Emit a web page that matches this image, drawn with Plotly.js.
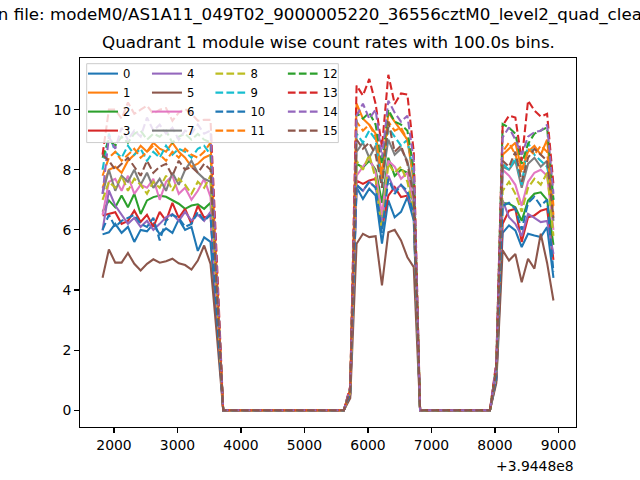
<!DOCTYPE html>
<html>
<head>
<meta charset="utf-8">
<script src="https://cdn.plot.ly/plotly-3.0.1.min.js"></script>
<style>html,body{margin:0;padding:0;background:#fff;}#chart{width:640px;height:480px;}</style>
</head>
<body>
<div id="chart"></div>
<script>
// Time (s) relative to offset 3.9448e8, 100 s bins
const timeOffsetLabel = "+3.9448e8";
const times = [1820,1920,2020,2120,2220,2320,2420,2520,2620,2720,2820,2920,3020,3120,3220,3320,3420,3520,3620,
3720,3820,3920,4020,4120,4220,4320,4420,4520,4620,4720,4820,4920,5020,5120,5220,5320,5420,5520,5620,
5720,5820,5920,6020,6120,6220,6320,6420,6520,6620,6720,
6820,6920,7020,7120,7220,7320,7420,7520,7620,7720,7820,7920,
8020,8120,8220,8320,8420,8520,8620,8720,8820,8920];

const moduleNames = ["0","1","2","3","4","5","6","7","8","9","10","11","12","13","14","15"];

const rate0 = [5.85,5.92,6.2,5.9,6.1,5.6,6.0,5.95,6.2,5.85,6.05,5.9,6.35,6.0,6.1,5.3,5.75,5.6,3.0,
0,0,0,0,0,0,0,0,0,0,0,0,0,0,0,0,0,0,0,0,
0.55,7.42,7.03,7.37,7.14,5.54,6.98,6.42,6.6,7.09,6.31,
0,0,0,0,0,0,0,0,0,0,0,0,
1.0,5.9,6.15,5.98,5.43,5.87,5.81,5.76,6.09,4.4];
const rate1 = [7.4,8.0,8.1,7.9,8.3,8.5,8.8,8.6,8.9,8.7,8.6,8.9,8.6,8.4,8.1,8.2,8.4,8.5,4.3,
0,0,0,0,0,0,0,0,0,0,0,0,0,0,0,0,0,0,0,0,
0.7,10.2,9.7,9.5,9.2,7.8,9.9,9.6,9.3,9.0,7.6,
0,0,0,0,0,0,0,0,0,0,0,0,
1.4,8.5,8.7,8.9,8.0,8.6,8.8,8.5,9.0,6.8];
const rate2 = [6.6,6.98,6.75,7.14,6.75,7.2,6.53,6.98,7.09,7.14,7.1,6.98,6.87,6.7,6.81,6.85,6.7,6.9,3.5,
0,0,0,0,0,0,0,0,0,0,0,0,0,0,0,0,0,0,0,0,
0.6,8.2,8.08,8.3,8.0,6.9,8.4,7.8,8.0,7.9,6.8,
0,0,0,0,0,0,0,0,0,0,0,0,
1.2,6.9,6.87,6.75,6.3,6.98,7.2,7.25,7.0,5.5];
const rate3 = [6.48,6.53,6.59,6.2,6.3,6.64,6.26,6.5,6.1,6.6,6.3,6.9,6.4,6.7,6.2,6.8,6.4,6.5,3.3,
0,0,0,0,0,0,0,0,0,0,0,0,0,0,0,0,0,0,0,0,
0.55,7.64,7.53,7.64,7.7,6.09,7.14,7.42,7.09,7.14,6.64,
0,0,0,0,0,0,0,0,0,0,0,0,
1.1,6.2,6.64,6.7,5.6,6.42,6.48,6.64,6.7,5.0];
const rate4 = [5.98,7.31,6.81,6.5,6.2,6.4,6.1,6.3,6.0,6.2,6.42,6.53,6.3,6.6,6.31,6.5,6.3,6.6,3.2,
0,0,0,0,0,0,0,0,0,0,0,0,0,0,0,0,0,0,0,0,
0.5,7.5,7.3,7.6,7.4,6.3,7.8,7.3,7.5,7.2,6.6,
0,0,0,0,0,0,0,0,0,0,0,0,
1.0,6.98,6.42,6.2,5.8,6.53,6.4,6.26,6.3,5.2];
const rate5 = [4.41,5.35,4.91,4.91,5.23,4.87,4.65,4.87,5.02,4.91,4.96,5.04,4.89,4.83,4.68,4.98,5.48,4.87,2.5,
0,0,0,0,0,0,0,0,0,0,0,0,0,0,0,0,0,0,0,0,
0.4,5.54,5.87,5.76,5.79,4.15,5.92,6.0,5.65,5.09,4.76,
0,0,0,0,0,0,0,0,0,0,0,0,
0.9,5.32,4.98,5.2,4.26,5.04,4.71,5.87,4.9,3.65];
const rate6 = [6.5,7.6,7.7,7.3,7.8,7.2,7.5,7.4,7.7,7.0,7.6,7.8,7.2,7.4,7.0,7.3,7.7,7.1,3.7,
0,0,0,0,0,0,0,0,0,0,0,0,0,0,0,0,0,0,0,0,
0.6,7.8,8.1,8.4,7.9,6.5,8.3,8.1,7.7,7.9,6.9,
0,0,0,0,0,0,0,0,0,0,0,0,
1.2,8.0,7.8,7.5,6.8,7.6,7.9,8.0,7.8,6.0];
const rate7 = [7.2,8.0,7.3,7.8,7.6,8.0,7.5,7.9,7.4,7.7,7.3,7.9,7.5,8.0,8.3,7.9,7.7,7.6,4.0,
0,0,0,0,0,0,0,0,0,0,0,0,0,0,0,0,0,0,0,0,
0.65,8.6,8.9,8.4,8.8,7.6,9.0,8.5,8.7,8.3,7.3,
0,0,0,0,0,0,0,0,0,0,0,0,
1.3,8.1,8.0,8.3,7.4,8.2,8.4,8.1,8.3,6.3];
const rate8 = [7.0,7.6,7.4,7.8,7.3,7.7,7.5,7.2,7.6,7.4,7.8,7.3,7.7,7.5,7.2,7.6,7.4,7.8,3.9,
0,0,0,0,0,0,0,0,0,0,0,0,0,0,0,0,0,0,0,0,
0.6,8.3,8.0,8.5,7.7,6.0,8.2,7.9,8.1,7.6,6.6,
0,0,0,0,0,0,0,0,0,0,0,0,
1.2,7.3,7.6,7.2,6.6,7.4,7.7,7.5,7.9,5.8];
const rate9 = [8.0,9.2,8.6,8.4,8.8,8.5,8.7,8.3,8.6,8.4,8.8,8.5,8.7,8.6,8.4,8.7,8.8,8.5,4.3,
0,0,0,0,0,0,0,0,0,0,0,0,0,0,0,0,0,0,0,0,
0.7,9.2,8.9,9.3,9.0,7.4,9.4,9.1,8.8,9.0,7.8,
0,0,0,0,0,0,0,0,0,0,0,0,
1.3,8.2,8.0,8.4,7.5,8.9,8.5,8.3,8.1,7.0];
const rate10 = [6.0,6.5,6.1,6.3,6.4,6.5,6.2,6.1,6.4,5.65,6.3,6.5,6.4,6.1,6.2,6.6,6.3,6.5,3.2,
0,0,0,0,0,0,0,0,0,0,0,0,0,0,0,0,0,0,0,0,
0.55,7.5,7.3,7.6,7.4,5.9,7.7,7.2,7.5,7.3,6.5,
0,0,0,0,0,0,0,0,0,0,0,0,
1.1,6.8,6.9,6.7,6.0,6.9,7.1,6.8,7.0,4.6];
const rate11 = [7.8,8.4,8.6,8.3,8.5,8.7,8.4,8.6,8.8,8.5,8.3,8.6,8.4,8.7,8.5,8.4,8.6,8.9,4.4,
0,0,0,0,0,0,0,0,0,0,0,0,0,0,0,0,0,0,0,0,
0.7,9.6,9.3,9.5,9.1,7.7,9.6,9.3,9.4,9.0,7.9,
0,0,0,0,0,0,0,0,0,0,0,0,
1.4,8.6,8.9,8.5,7.9,8.7,8.5,8.8,8.6,6.5];
const rate12 = [8.4,9.0,8.8,9.1,8.9,9.2,9.3,9.0,9.2,9.1,9.3,8.9,9.1,9.2,9.0,9.19,9.0,8.91,4.6,
0,0,0,0,0,0,0,0,0,0,0,0,0,0,0,0,0,0,0,0,
0.75,9.9,9.7,9.9,9.5,8.2,10.0,9.6,9.5,9.3,8.0,
0,0,0,0,0,0,0,0,0,0,0,0,
1.5,9.52,9.4,9.2,8.2,8.86,9.2,9.3,9.41,7.0];
const rate13 = [8.5,10.0,10.0,9.7,10.24,9.86,10.0,10.13,9.86,10.0,10.05,9.63,9.9,10.02,9.86,9.63,9.66,9.66,5.0,
0,0,0,0,0,0,0,0,0,0,0,0,0,0,0,0,0,0,0,0,
0.8,10.8,10.47,11.02,10.19,8.75,11.16,10.19,10.54,10.5,8.6,
0,0,0,0,0,0,0,0,0,0,0,0,
1.6,9.47,9.8,9.74,8.3,10.3,9.97,9.77,9.86,7.5];
const rate14 = [7.2,9.1,8.7,9.4,9.0,9.3,9.1,9.74,9.3,9.5,9.2,9.4,9.0,9.3,9.2,9.5,9.2,9.3,4.7,
0,0,0,0,0,0,0,0,0,0,0,0,0,0,0,0,0,0,0,0,
0.75,9.8,10.2,9.7,10.0,8.4,10.3,9.9,9.6,9.8,8.3,
0,0,0,0,0,0,0,0,0,0,0,0,
1.5,9.08,9.41,9.0,8.5,9.1,9.25,9.3,9.5,7.2];
const rate15 = [8.5,8.3,8.0,8.2,8.4,8.1,7.8,8.3,7.9,8.1,8.2,7.8,8.3,8.0,8.1,7.9,8.2,8.0,4.1,
0,0,0,0,0,0,0,0,0,0,0,0,0,0,0,0,0,0,0,0,
0.65,9.0,8.7,8.9,8.5,7.4,9.6,8.6,8.8,8.2,7.1,
0,0,0,0,0,0,0,0,0,0,0,0,
1.3,8.3,8.1,8.6,7.6,8.4,8.7,8.5,8.3,6.4];

const rates = [rate0,rate1,rate2,rate3,rate4,rate5,rate6,rate7,rate8,rate9,rate10,rate11,rate12,rate13,rate14,rate15];
const xTicks = [2000,3000,4000,5000,6000,7000,8000,9000];
const yTicks = [0,2,4,6,8,10];
const suptitleText = "Data in file: modeM0/AS1A11_049T02_9000005220_36556cztM0_level2_quad_clean.evt";
const titleText = "Quadrant 1 module wise count rates with 100.0s bins.";

const palette = ["#1f77b4","#ff7f0e","#2ca02c","#d62728","#9467bd","#8c564b","#e377c2","#7f7f7f","#bcbd22","#17becf"];
const FONT = "DejaVu Sans";

const legendIds = ["legend","legend2","legend3","legend4"];
const traces = rates.map((r, i) => ({
  type: "scatter", mode: "lines",
  x: times, y: r, name: moduleNames[i],
  legend: legendIds[Math.floor(i / 4)],
  line: {color: palette[i % 10], width: 2.08, dash: i >= 8 ? "7.7px,3.3px" : "solid"}
}));

const legendCols = [0.006, 0.135, 0.263, 0.409];
const legendBase = {
  y: 0.997, yanchor: "top", xanchor: "left",
  bgcolor: "rgba(0,0,0,0)", borderwidth: 0,
  font: {family: FONT, size: 11.6, color: "#000"},
  tracegroupgap: 0, itemwidth: 30
};
const layout = {
  width: 640, height: 480,
  margin: {l: 80, r: 64, t: 57.6, b: 52.8, pad: 0},
  paper_bgcolor: "#fff", plot_bgcolor: "#fff",
  showlegend: true,
  font: {family: FONT, color: "#000"},
  xaxis: {
    range: [1465, 9275], tickvals: xTicks, ticks: "outside", ticklen: 4.9, tickwidth: 1.1, tickcolor: "#000",
    showline: true, linecolor: "#000", linewidth: 1.1, mirror: true, showgrid: false, zeroline: false,
    tickfont: {family: FONT, size: 13.9, color: "#000"}, automargin: false
  },
  yaxis: {
    range: [-0.558, 11.718], tickvals: yTicks, ticks: "outside", ticklen: 4.9, tickwidth: 1.1, tickcolor: "#000",
    showline: true, linecolor: "#000", linewidth: 1.1, mirror: true, showgrid: false, zeroline: false,
    tickfont: {family: FONT, size: 13.9, color: "#000"}, automargin: false
  },
  shapes: [{
    type: "rect", xref: "paper", yref: "paper", layer: "above",
    x0: 0.0135, x1: 0.5208, y0: 0.7708, y1: 0.9846,
    fillcolor: "rgba(255,255,255,0.8)", line: {color: "#cccccc", width: 1}
  }],
  annotations: [
    {text: suptitleText, xref: "paper", yref: "paper", x: -0.270, y: 1.1166, xanchor: "left", yanchor: "middle",
     showarrow: false, font: {family: FONT, size: 16.7, color: "#000"}},
    {text: titleText, xref: "paper", yref: "paper", x: 0.5, y: 1.0, xanchor: "center", yanchor: "bottom", yshift: 4,
     showarrow: false, font: {family: FONT, size: 16.7, color: "#000"}},
    {text: timeOffsetLabel, xref: "paper", yref: "paper", x: 1.0, y: -0.107, xanchor: "right", yanchor: "middle",
     showarrow: false, font: {family: FONT, size: 13.9, color: "#000"}}
  ]
};
legendIds.forEach((id, k) => { layout[id] = Object.assign({}, legendBase, {x: legendCols[k]}); });

Plotly.newPlot("chart", traces, layout, {staticPlot: true, displayModeBar: false});
</script>
</body>
</html>
